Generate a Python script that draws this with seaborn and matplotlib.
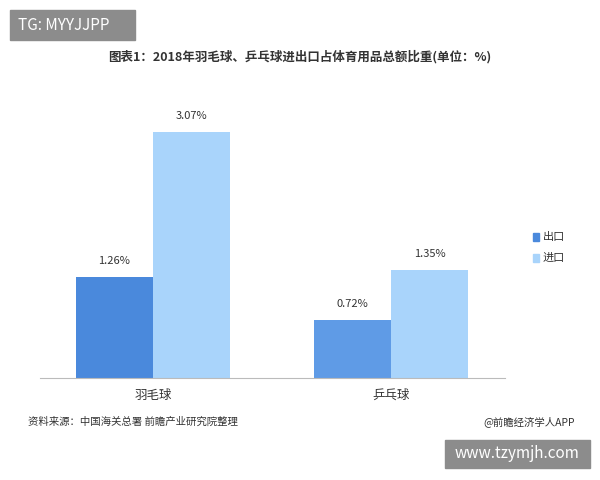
import matplotlib
matplotlib.use("Agg")
import matplotlib.pyplot as plt
import seaborn as sns
import pandas as pd
from matplotlib.patches import FancyBboxPatch

categories = ["羽毛球", "乒乓球"]
series = ["出口", "进口"]
export_vals = [1.26, 0.72]
import_vals = [3.07, 1.35]

sns.set_style("white")
plt.rcParams['font.family'] = ['Noto Sans CJK SC', 'DejaVu Sans']

df = pd.DataFrame({
    "cat": categories * 2,
    "s": [series[0]] * 2 + [series[1]] * 2,
    "v": export_vals + import_vals,
})

fig = plt.figure(figsize=(6, 4.8), dpi=100)
ax = fig.add_axes([40/600, 1-378/480, 465/600, 278/480])
sns.barplot(data=df, x="cat", y="v", hue="s", ax=ax, width=0.65, saturation=1,
            palette=["#4a89dc", "#a9d4fb"], legend=False)
cols = {0: "#4a89dc", 1: "#5f9be6"}
for ci, c in enumerate(ax.containers):
    for i, b in enumerate(c):
        if ci == 0:
            b.set_facecolor(cols[i])
        b.set_edgecolor("none")
    ax.bar_label(c, labels=[f"{v:.2f}%" for v in c.datavalues], padding=8,
                 fontsize=8, color="#333333")
ax.set_xlim(-0.475, 1.48)
ax.set_ylim(0, 3.47)
ax.set_yticks([])
ax.set_xlabel("")
ax.set_ylabel("")
for s in ["top", "right", "left"]:
    ax.spines[s].set_visible(False)
ax.spines["bottom"].set_color("#bbbbbb")
ax.tick_params(axis="x", length=0, labelsize=9, colors="#333333", pad=8)

fig.text(0.5, 1-57/480, "图表1：2018年羽毛球、乒乓球进出口占体育用品总额比重(单位：%)",
         ha="center", va="center", fontsize=9, fontweight="bold", color="#333333")
for i, (lab, col) in enumerate(zip(series, ["#4a89dc", "#a9d4fb"])):
    y = 1 - (237 + 21*i)/480
    fig.patches.append(plt.Rectangle((533/600, y-0.008), 6/600, 8/480, color=col,
                                     transform=fig.transFigure, figure=fig))
    fig.text(543/600, y, lab, va="center", fontsize=8, color="#333333")

fig.text(28/600, 1-422/480, "资料来源：中国海关总署 前瞻产业研究院整理", fontsize=7.5,
         va="center", color="#333333")
fig.text(575/600, 1-422/480, "@前瞻经济学人APP", fontsize=7.5, ha="right",
         va="center", color="#333333")

fig.patches.append(FancyBboxPatch((10/600, 1-40/480), 125/600, 30/480,
                                  boxstyle="square,pad=0", color="#8c8c8c",
                                  transform=fig.transFigure, figure=fig))
fig.text(18/600, 1-25/480, "TG: MYYJJPP", color="white", fontsize=11, va="center")
fig.patches.append(FancyBboxPatch((445/600, 1-468/480), 145/600, 28/480,
                                  boxstyle="square,pad=0", color="#8c8c8c",
                                  transform=fig.transFigure, figure=fig))
fig.text(517/600, 1-454/480, "www.tzymjh.com", color="white", fontsize=11,
         va="center", ha="center")

fig.savefig("out.png", dpi=100)
